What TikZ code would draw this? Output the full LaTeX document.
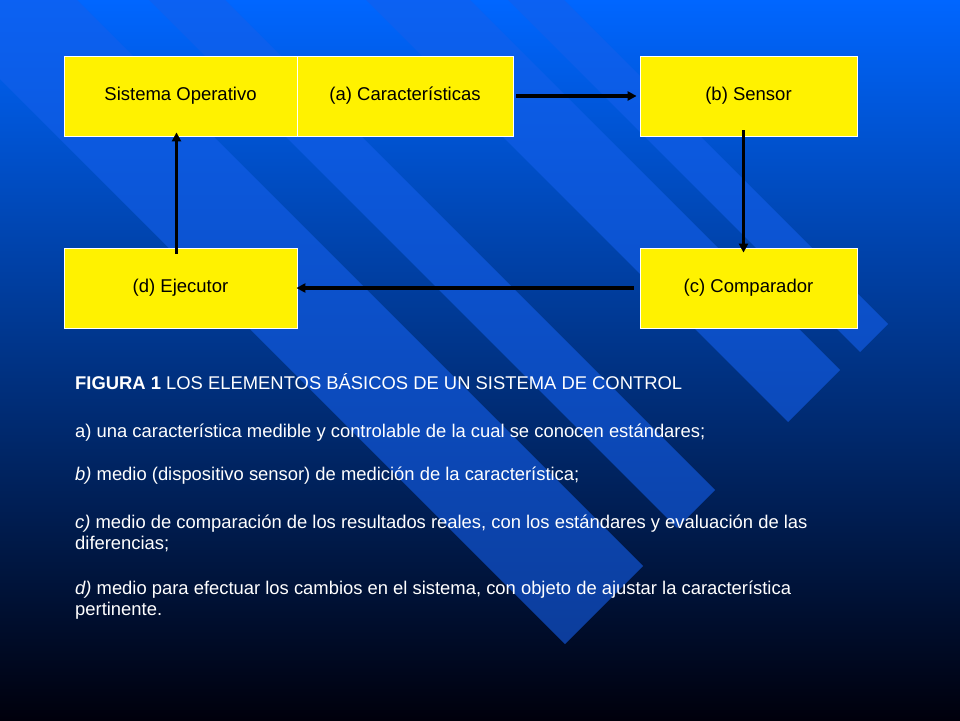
\documentclass[tikz,border=0pt]{standalone}
\usepackage{fontspec}
\setmainfont{Liberation Sans}
\usetikzlibrary{arrows.meta}
\begin{document}
\begin{tikzpicture}[x=1pt,y=-1pt,
  box/.style={draw=white,line width=0.8pt,fill=yellow,minimum width=216pt,minimum height=80pt,inner sep=0pt,font=\fontsize{18.5}{22}\selectfont},
  conn/.style={line width=3.5pt,-{Triangle[length=9pt,width=9pt]}},
  band/.style={fill={rgb,255:red,20;green,95;blue,235},fill opacity=0.6,draw=none},
  txt/.style={anchor=base west,inner sep=0pt,text=white,font=\fontsize{18.4}{22}\selectfont}]
\useasboundingbox (0,0) rectangle (960,720);
\shade[top color={rgb,255:red,0;green,102;blue,255},middle color={rgb,255:red,0;green,60;blue,190},bottom color={rgb,255:red,0;green,0;blue,12}] (0,0) rectangle (960,720);
\begin{scope}
\clip (0,0) rectangle (960,720);
\fill[band] (888,324) -- (860,352) -- ++(-1000,-1000) -- (-112,-676) -- cycle;
\fill[band] (840,370) -- (788,422) -- ++(-1000,-1000) -- (-160,-630) -- cycle;
\fill[band] (715,490) -- (677,528) -- ++(-1000,-1000) -- (-285,-510) -- cycle;
\fill[band] (643,566) -- (565,644) -- ++(-1000,-1000) -- (-357,-434) -- cycle;
\end{scope}
\node[box,minimum width=233pt] (so) at (180.5,96) {Sistema Operativo};
\node[box] (a) at (405,96) {(a) Características};
\node[box,minimum width=217pt] (b) at (748.5,96) {(b) Sensor};
\node[box,minimum width=233pt] (d) at (180.5,288) {(d) Ejecutor};
\node[box,minimum width=217pt] (c) at (748.5,288) {(c) Comparador};
\draw[conn] ([xshift=3pt]a.east) -- ([xshift=-3pt]b.west);
\draw[conn] ([xshift=-5pt,yshift=6pt]b.south) -- ([xshift=-5pt,yshift=-5pt]c.north);
\draw[conn] ([xshift=-6pt]c.west) -- ([xshift=-1pt]d.east);
\draw[conn] ([xshift=-4pt,yshift=-6pt]d.north) -- ([xshift=-4pt,yshift=4pt]so.south);
\node[txt] (t1) at (75,389) {\textbf{FIGURA 1} LOS ELEMENTOS BÁSICOS DE UN SISTEMA DE CONTROL};
\node[txt] (t2) at (75,437) {a) una característica medible y controlable de la cual se conocen estándares;};
\node[txt] (t3) at (75,480) {\textit{b)} medio (dispositivo sensor) de medición de la característica;};
\node[txt] (t4) at (75,528) {\textit{c)} medio de comparación de los resultados reales, con los estándares y evaluación de las};
\node[txt] (t5) at (75,549) {diferencias;};
\node[txt] (t6) at (75,594) {\textit{d)} medio para efectuar los cambios en el sistema, con objeto de ajustar la característica};
\node[txt] (t7) at (75,615) {pertinente.};
\end{tikzpicture}
\end{document}
